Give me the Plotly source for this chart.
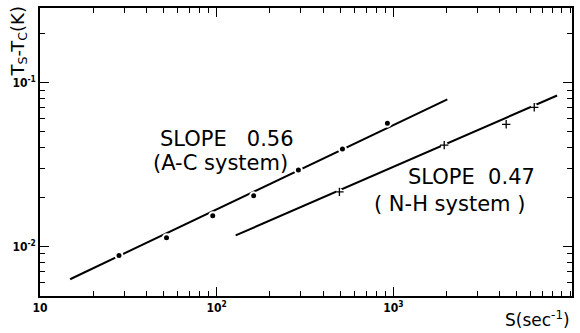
import plotly.graph_objects as go

# Relaxation data: S (sec^-1) versus T_S - T_C (K)
ac_rate = [28, 52, 95, 162, 290, 515, 925]
ac_dT = [0.0088, 0.0113, 0.0154, 0.0204, 0.0293, 0.0393, 0.0565]

nh_rate = [495, 1940, 4350, 6270]
nh_dT = [0.0215, 0.0415, 0.0556, 0.0706]

# Fitted power-law lines (end points)
ac_fit_rate = [14.8, 2020]
ac_fit_dT = [0.0063, 0.0789]
nh_fit_rate = [128, 8450]
nh_fit_dT = [0.01166, 0.0833]

x_tickvals = [10, 100, 1000]
x_ticktext = ["<b>10</b>", "<b>10<sup>2</sup></b>", "<b>10<sup>3</sup></b>"]
y_tickvals = [0.01, 0.1]
y_ticktext = ["<b>10<sup>-2</sup></b>", "<b>10<sup>-1</sup></b>"]

LABEL_FONT = "Liberation Sans Narrow, DejaVu Sans Condensed, Arial"
TEXT_FONT = "DejaVu Sans, Verdana, Arial"

W, H = 580, 333
L, R, T, B = 40, 7, 6, 37


def to_paper(px, py):
    """Convert a pixel position in the figure to paper coordinates."""
    return (px - L) / (W - L - R), (H - B - py) / (H - T - B)


fig = go.Figure()

# fit lines
fig.add_trace(go.Scatter(x=ac_fit_rate, y=ac_fit_dT, mode="lines",
                         line=dict(color="black", width=2), hoverinfo="skip"))
fig.add_trace(go.Scatter(x=nh_fit_rate, y=nh_fit_dT, mode="lines",
                         line=dict(color="black", width=2), hoverinfo="skip"))

# A-C system: dots with a thin white halo that breaks the line
fig.add_trace(go.Scatter(x=ac_rate, y=ac_dT, mode="markers",
                         marker=dict(symbol="circle", size=7, color="black",
                                     line=dict(color="white", width=2))))

# N-H system: crosses, with a white backing to break the line
fig.add_trace(go.Scatter(x=nh_rate, y=nh_dT, mode="markers",
                         marker=dict(symbol="circle", size=7, color="white",
                                     line=dict(width=0)), hoverinfo="skip"))
fig.add_trace(go.Scatter(x=nh_rate, y=nh_dT, mode="markers",
                         marker=dict(symbol="cross-thin", size=6, color="black",
                                     line=dict(color="black", width=1.3))))

axis_common = dict(
    type="log", tickmode="array",
    ticks="inside", ticklen=9, tickwidth=1.2, tickcolor="black",
    minor=dict(ticks="inside", ticklen=5, tickwidth=1, tickcolor="black",
               dtick="D1", showgrid=False),
    showline=True, linecolor="black", linewidth=1.6, mirror="allticks",
    showgrid=False, zeroline=False,
    tickfont=dict(family=LABEL_FONT, size=12, color="black"),
)
fig.update_xaxes(range=[1, 4.011], tickvals=x_tickvals, ticktext=x_ticktext, **axis_common)
fig.update_yaxes(range=[-2.303, -0.545], tickvals=y_tickvals, ticktext=y_ticktext, **axis_common)

annots = [
    dict(text="SLOPE&nbsp;&nbsp;&nbsp;0.56", x=227, y=138, size=21),
    dict(text="(A-C&nbsp;system)", x=221, y=162, size=21),
    dict(text="SLOPE&nbsp;&nbsp;0.47", x=472, y=176, size=21),
    dict(text="(&nbsp;N-H&nbsp;system&nbsp;)", x=450, y=203, size=21),
    dict(text="S(sec<sup>-1</sup>)", x=538, y=319, size=17),
]
for a in annots:
    px, py = to_paper(a["x"], a["y"])
    fig.add_annotation(text=a["text"], x=px, y=py,
                       xref="paper", yref="paper", xanchor="center", yanchor="middle",
                       showarrow=False,
                       font=dict(family=TEXT_FONT, size=a["size"], color="black"))

# vertical axis title at the top-left corner
tx, ty = to_paper(18, 2)
fig.add_annotation(text="T<sub>S</sub>-T<sub>C</sub>(K)", textangle=-90,
                   x=tx, y=ty, xref="paper", yref="paper",
                   xanchor="center", yanchor="top", showarrow=False,
                   font=dict(family=TEXT_FONT, size=18, color="black"))

fig.update_layout(width=W, height=H, showlegend=False,
                  margin=dict(l=L, r=R, t=T, b=B),
                  paper_bgcolor="white", plot_bgcolor="white")

fig.write_html("out.html")
